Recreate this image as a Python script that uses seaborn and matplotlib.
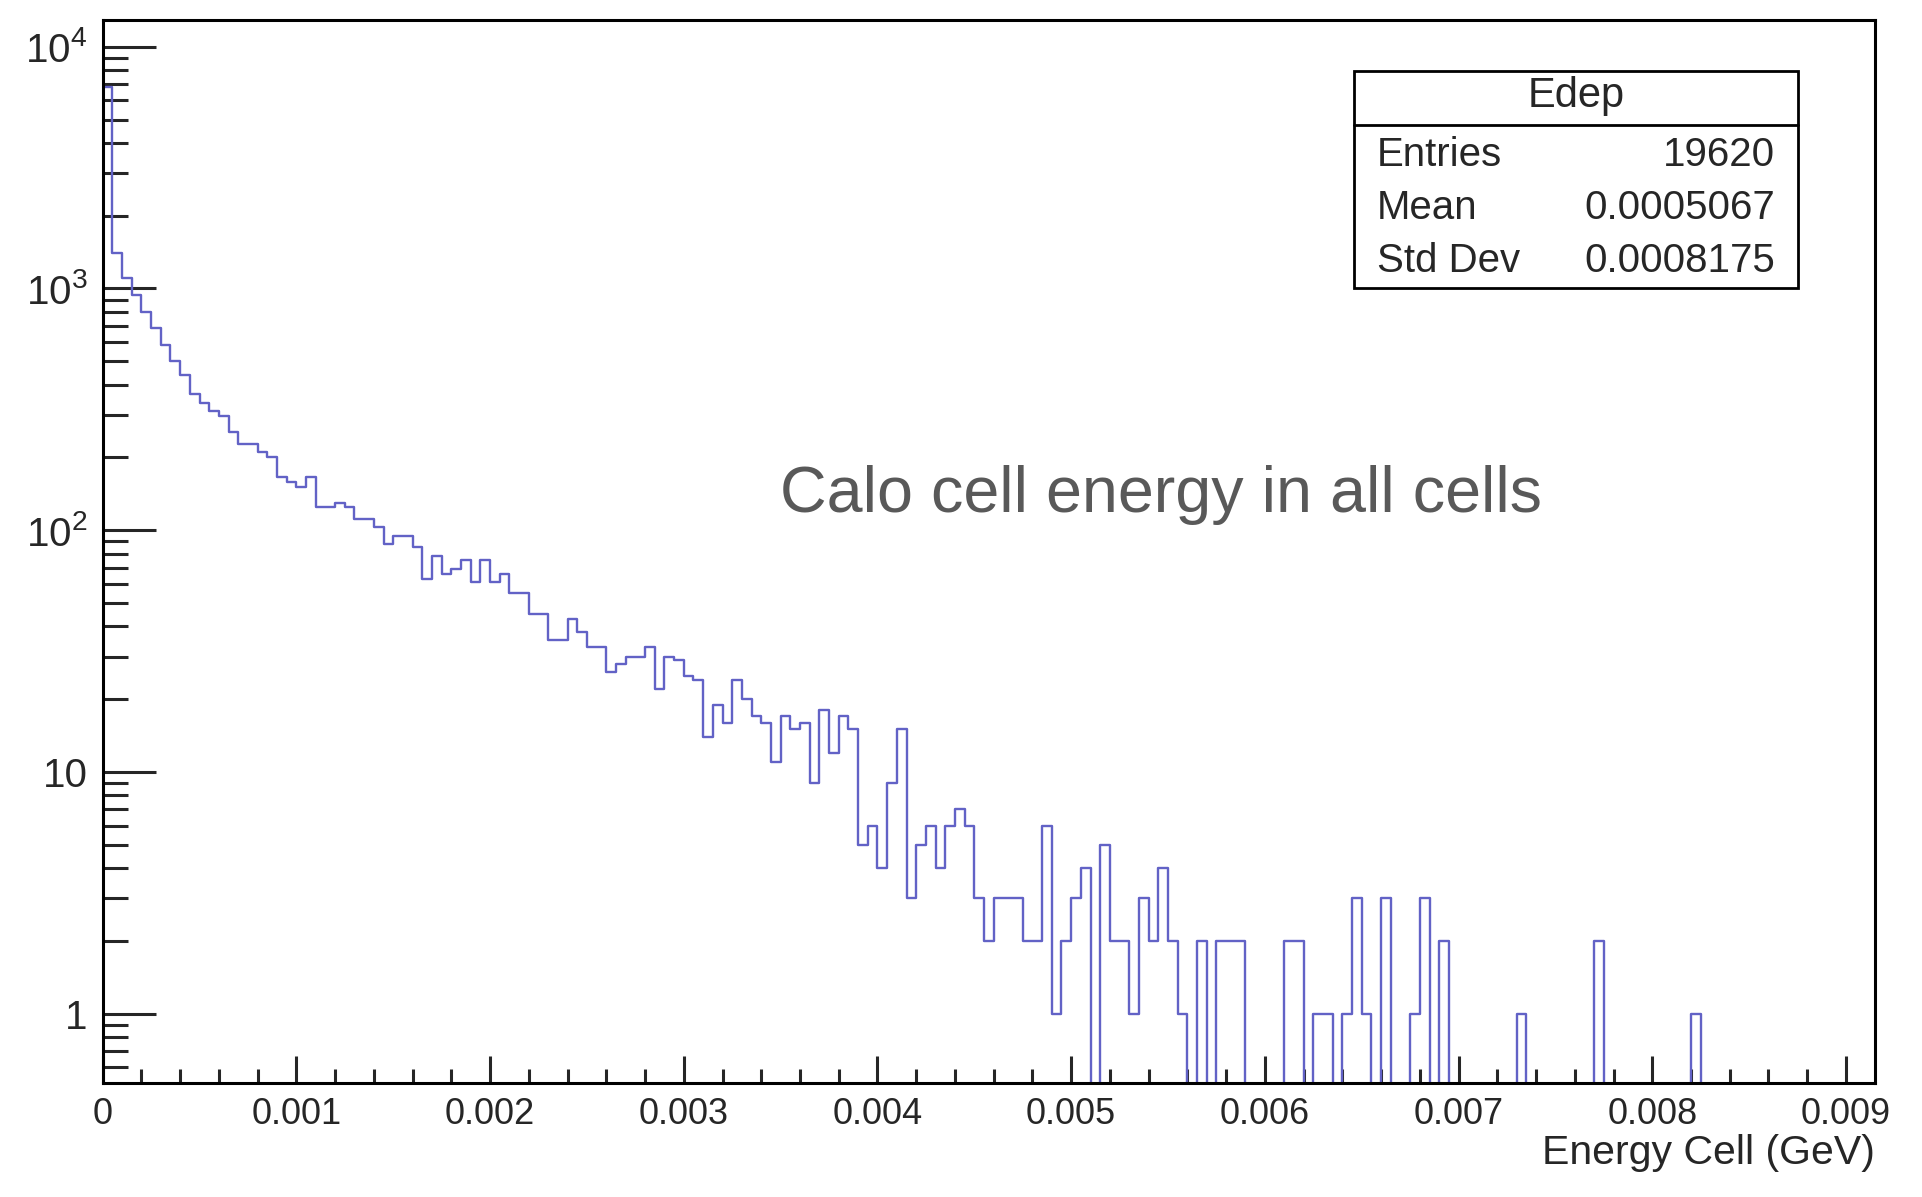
import numpy as np
import pandas as pd
import seaborn as sns
import matplotlib.pyplot as plt
from matplotlib.patches import Rectangle
from matplotlib.lines import Line2D
from matplotlib.ticker import FixedLocator, FixedFormatter, LogLocator, NullFormatter

# Counts per 0.00005 GeV bin starting at 0
counts = [6800, 1400, 1100, 940, 800, 684, 583, 500, 440, 365,
          337, 312, 297, 255, 227, 227, 210, 200, 166, 159,
          151, 166, 125, 125, 130, 125, 111, 111, 103, 88,
          95, 95, 85, 63, 78, 66, 69, 75, 61, 75,
          61, 66, 55, 55, 45, 45, 35, 35, 43, 38,
          33, 33, 26, 28, 30, 30, 33, 22, 30, 29,
          25, 24, 14, 19, 16, 24, 20, 17, 16, 11,
          17, 15, 16, 9, 18, 12, 17, 15, 5, 6,
          4, 9, 15, 3, 5, 6, 4, 6, 7, 6,
          3, 2, 3, 3, 3, 2, 2, 6, 1, 2,
          3, 4, 0, 5, 2, 2, 1, 3, 2, 4,
          2, 1, 0, 2, 0, 2, 2, 2, 0, 0,
          0, 0, 2, 2, 0, 1, 1, 0, 1, 3,
          1, 0, 3, 0, 0, 1, 3, 0, 2, 0,
          0, 0, 0, 0, 0, 0, 1, 0, 0, 0,
          0, 0, 0, 0, 2, 0, 0, 0, 0, 0,
          0, 0, 0, 0, 1, 0, 0, 0, 0, 0,
          0, 0, 0, 0, 0, 0, 0, 0, 0, 0,
          0, 0, 0]
x_min, x_max = 0.0, 0.00915

x_ticks = [0, 0.001, 0.002, 0.003, 0.004, 0.005, 0.006, 0.007, 0.008, 0.009]
x_tick_labels = ['0', '0.001', '0.002', '0.003', '0.004', '0.005', '0.006', '0.007', '0.008', '0.009']
y_ticks = [1, 10, 100, 1000, 10000]
y_tick_labels = ['1', '10', r'$10^{2}$', r'$10^{3}$', r'$10^{4}$']

stat_title = 'Edep'
stat_names = ['Entries', 'Mean', 'Std Dev']
stat_values = ['19620', '0.0005067', '0.0008175']

x_label = 'Energy Cell (GeV)'
note = 'Calo cell energy in all cells'

# bins
edges = np.linspace(x_min, x_max, len(counts) + 1)
df = pd.DataFrame({'energy': (edges[:-1] + edges[1:]) / 2, 'n': counts})

sns.set_style('ticks')
plt.rcParams['font.family'] = ['Liberation Sans', 'DejaVu Sans']
plt.rcParams['mathtext.fontset'] = 'custom'
plt.rcParams['mathtext.rm'] = 'Liberation Sans'
plt.rcParams['mathtext.it'] = 'Liberation Sans'

fig = plt.figure(figsize=(19.22, 11.97), dpi=100)
ax = fig.add_axes([0.05343, 0.09549, 0.92212, 0.8878])

sns.histplot(data=df, x='energy', weights='n', bins=edges.tolist(), element='step', fill=False,
             color='#6262c6', linewidth=1.7, ax=ax)
ax.set_yscale('log')
ax.set_xlim(x_min, x_max)
ax.set_ylim(0.518, 12900)
ax.set_ylabel('')

# axes / ticks like ROOT
for s in ax.spines.values():
    s.set_linewidth(2.2)
    s.set_color('black')
ax.xaxis.set_major_locator(FixedLocator(x_ticks))
ax.xaxis.set_major_formatter(FixedFormatter(x_tick_labels))
ax.xaxis.set_minor_locator(FixedLocator(np.arange(0, x_max, 0.0002)))
ax.yaxis.set_major_locator(FixedLocator(y_ticks))
ax.yaxis.set_major_formatter(FixedFormatter(y_tick_labels))
ax.yaxis.set_minor_locator(LogLocator(base=10, subs=range(2, 10), numticks=30))
ax.yaxis.set_minor_formatter(NullFormatter())

ax.tick_params(axis='y', which='major', direction='in', length=38, width=2.2, labelsize=29, pad=11)
ax.tick_params(axis='y', which='minor', direction='in', length=18, width=2.2)
ax.tick_params(axis='x', which='major', direction='in', length=19.5, width=2.2, labelsize=26, pad=10)
ax.tick_params(axis='x', which='minor', direction='in', length=10, width=2.2)
ax.tick_params(top=False, right=False, which='both')

ax.set_xlabel(x_label, loc='right', fontsize=29.5, labelpad=2)

# stats box
ax.add_patch(Rectangle((0.7063, 0.7478), 0.2503, 0.2042, transform=ax.transAxes,
                       facecolor='white', edgecolor='black', linewidth=2, zorder=5, clip_on=False))
ax.add_line(Line2D([0.7063, 0.9566], [0.9012, 0.9012], transform=ax.transAxes,
                   color='black', linewidth=2, zorder=6))
ax.text(0.8315, 0.9289, stat_title, transform=ax.transAxes, ha='center', va='center',
        fontsize=30, zorder=7)
for i, (name, val) in enumerate(zip(stat_names, stat_values)):
    yy = [0.8734, 0.8227, 0.7732][i]
    ax.text(0.7188, yy, name, transform=ax.transAxes, ha='left', va='center', fontsize=29, zorder=7)
    ax.text(0.9436, yy, val, transform=ax.transAxes, ha='right', va='center', fontsize=29, zorder=7)

# annotation
ax.text(0.5971, 0.5366, note, transform=ax.transAxes, ha='center', va='baseline',
        fontsize=46.5, color='#595959')

plt.savefig('out.png', dpi=100)
plt.close()
